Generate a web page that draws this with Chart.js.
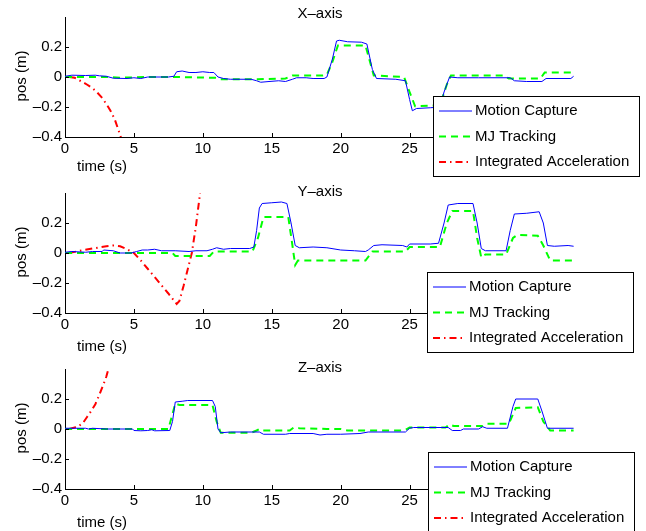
<!DOCTYPE html>
<html>
<head>
<meta charset="utf-8">
<script src="https://cdn.jsdelivr.net/npm/chart.js@4.4.1/dist/chart.umd.min.js"></script>
<style>
  html, body { margin: 0; padding: 0; background: #fff; }
  #wrap { position: relative; width: 646px; height: 531px; overflow: hidden; }
  canvas { position: absolute; left: 0; }
</style>
</head>
<body>
<div id="wrap">
  <canvas id="pX" width="646" height="180" style="top:0px"></canvas>
  <canvas id="pY" width="646" height="180" style="top:176px"></canvas>
  <canvas id="pZ" width="646" height="179" style="top:352px"></canvas>
</div>
<script>
// === DATA ===
const seriesNames = ['Motion Capture', 'MJ Tracking', 'Integrated Acceleration'];
const xTickVals = [0, 5, 10, 15, 20, 25, 30, 35];
const yTickVals = [-0.4, -0.2, 0, 0.2];
const yTickLabels = ['–0.4', '–0.2', '0', '0.2'];

// X-axis
const xMocapT = [0, 0.5, 1.5, 2.2, 2.5, 3.0, 3.5, 4.5, 5.0, 5.5, 6, 7.5, 7.9, 8.1, 8.5, 9, 9.5, 10, 10.5, 10.8, 11.1, 11.5, 12, 13.5, 13.9, 14.2, 14.8, 15.5, 16, 16.5, 16.8, 17.5, 18, 18.8, 19.0, 19.4, 19.7, 19.9, 20.5, 21.5, 21.9, 22.3, 22.6, 24, 24.7, 25.0, 25.2, 25.5, 26.5, 27.2, 27.5, 27.9, 28.5, 30, 32.3, 32.6, 33.5, 34.6, 34.9, 36.7, 36.9];
const xMocapV = [0.005, 0.012, 0.01, 0.012, 0.008, 0.005, -0.008, -0.01, -0.005, -0.01, 0, 0, 0.005, 0.035, 0.04, 0.03, 0.03, 0.035, 0.03, 0.03, 0, -0.01, -0.015, -0.015, -0.025, -0.035, -0.03, -0.025, -0.03, -0.015, -0.005, -0.005, -0.01, -0.01, 0, 0.12, 0.24, 0.245, 0.235, 0.232, 0.22, 0.05, -0.01, -0.015, -0.025, -0.15, -0.225, -0.21, -0.205, -0.2, -0.1, 0, -0.005, -0.005, -0.005, -0.025, -0.03, -0.03, -0.01, -0.01, 0.005];
const xMjT = [0, 3, 4, 6, 8, 10.9, 11.3, 14, 16, 16.5, 18.7, 19.0, 19.4, 19.8, 21.8, 22.4, 24.6, 25.0, 25.4, 26.5, 27.2, 27.7, 28.0, 31.8, 32.2, 34.5, 34.8, 36.9];
const xMjV = [0, 0, -0.005, 0, 0, -0.005, -0.015, -0.015, -0.01, 0.01, 0.01, 0.015, 0.1, 0.21, 0.21, 0.01, 0, -0.1, -0.195, -0.19, -0.19, -0.05, 0.01, 0.01, -0.01, -0.01, 0.03, 0.03];
const xAccT = [0.3, 0.7, 1.1, 1.5, 2.0, 2.3, 2.7, 3.0, 3.3, 3.6, 3.9, 4.05, 4.2];
const xAccV = [0, -0.005, -0.025, -0.045, -0.075, -0.1, -0.14, -0.18, -0.225, -0.28, -0.36, -0.4, -0.44];

// Y-axis
const yMocapT = [0, 0.5, 1.5, 2.0, 2.7, 2.8, 3.5, 4.0, 4.8, 5.2, 5.6, 6, 6.5, 7, 8, 9, 9.5, 10.3, 10.7, 11, 11.5, 12, 13.4, 13.7, 13.9, 14.1, 14.3, 15, 15.7, 16.1, 16.4, 16.7, 17, 18, 19, 20, 21, 21.8, 22.0, 22.4, 23, 24.5, 24.8, 25.0, 26.5, 27.1, 27.5, 27.8, 28.5, 29.6, 29.9, 30.2, 30.5, 32.0, 32.3, 32.6, 33.5, 34.4, 34.7, 35.0, 35.5, 36.5, 36.9];
const yMocapV = [0.005, 0.01, 0.005, 0.01, 0.01, 0.02, 0.015, 0, 0, 0.01, 0.02, 0.02, 0.025, 0.015, 0.015, 0.01, 0.015, 0.015, 0.025, 0.035, 0.025, 0.03, 0.03, 0.04, 0.15, 0.3, 0.33, 0.335, 0.34, 0.33, 0.2, 0.05, 0.035, 0.04, 0.035, 0.02, 0.015, 0.01, 0.02, 0.05, 0.055, 0.05, 0.04, 0.06, 0.06, 0.065, 0.2, 0.32, 0.33, 0.33, 0.2, 0.03, 0.015, 0.015, 0.15, 0.26, 0.265, 0.275, 0.2, 0.05, 0.045, 0.05, 0.045];
const yMjT = [0, 4, 6, 7.8, 8.0, 10.5, 10.8, 13.6, 14.0, 14.4, 16.2, 16.5, 16.7, 16.9, 21.8, 22.3, 24.7, 25.0, 27.2, 27.7, 28.1, 29.6, 29.9, 30.2, 30.5, 32.0, 32.5, 32.8, 34.3, 34.7, 35.2, 36.9];
const yMjV = [0, 0, 0, 0, -0.02, -0.02, 0.01, 0.01, 0.1, 0.24, 0.24, 0.05, -0.08, -0.05, -0.05, 0.01, 0.01, 0.04, 0.04, 0.2, 0.28, 0.28, 0.1, -0.03, -0.01, -0.01, 0.1, 0.12, 0.115, 0.05, -0.05, -0.05];
const yAccT = [0.3, 1.0, 2.0, 3.0, 3.5, 4.0, 4.5, 5.0, 5.5, 6.0, 6.5, 7.0, 7.5, 8.1, 8.3, 8.6, 8.9, 9.2, 9.5, 9.8, 9.9];
const yAccV = [0, 0.013, 0.03, 0.045, 0.05, 0.045, 0.025, 0, -0.05, -0.105, -0.16, -0.215, -0.27, -0.34, -0.32, -0.22, -0.11, 0, 0.18, 0.4, 0.46];

// Z-axis
const zMocapT = [0, 1.5, 1.7, 2, 3, 4.9, 5.0, 5.5, 6.0, 6.3, 6.5, 7.6, 7.8, 8.0, 8.5, 8.9, 10.7, 10.9, 11.1, 11.3, 12, 14.1, 14.4, 16, 16.3, 18, 18.5, 19, 20, 21.4, 22, 24.7, 25.0, 25.3, 27.8, 28.1, 28.7, 28.9, 30.0, 30.3, 30.6, 32.1, 32.5, 32.7, 34.3, 34.6, 35.0, 36.9];
const zMocapV = [0.005, 0.005, 0, 0.005, 0, 0, -0.01, -0.012, -0.01, -0.005, -0.012, -0.01, 0.05, 0.18, 0.185, 0.19, 0.19, 0.15, 0, -0.025, -0.02, -0.02, -0.035, -0.035, -0.03, -0.03, -0.04, -0.035, -0.035, -0.03, -0.02, -0.02, 0.005, 0.01, 0.01, -0.01, -0.01, 0, 0, 0.015, 0.005, 0.005, 0.15, 0.2, 0.2, 0.12, 0.005, 0.005];
const zMjT = [0, 7.5, 7.8, 8.0, 8.3, 10.7, 11.0, 11.3, 13.5, 13.9, 14.1, 14.3, 16.3, 16.6, 17.0, 19, 20, 20.5, 24.6, 25.0, 27.6, 27.9, 28.2, 30.3, 30.6, 32.2, 32.7, 34.3, 34.7, 35.2, 36.9];
const zMjV = [0, 0, 0.1, 0.17, 0.16, 0.16, 0.05, -0.025, -0.025, -0.01, 0, -0.01, -0.01, 0.01, 0.005, 0, 0, -0.01, -0.01, 0.01, 0.01, 0.03, 0.02, 0.02, 0.035, 0.035, 0.14, 0.145, 0.05, -0.01, -0.01];
const zAccT = [0.3, 0.7, 1.0, 1.3, 1.6, 1.9, 2.2, 2.5, 2.8, 3.0, 3.15, 3.3];
const zAccV = [0, 0.01, 0.02, 0.04, 0.08, 0.12, 0.165, 0.23, 0.3, 0.35, 0.4, 0.45];

// === ESTILO ===
const FONT = '15px "Liberation Sans", Arial, sans-serif';
Chart.defaults.font.family = '"Liberation Sans", Arial, sans-serif';
Chart.defaults.font.size = 15;
Chart.defaults.color = '#000';

const lineColors = ['#0000ff', '#00ff00', '#ff0000'];
const lineWidths = [1, 2, 2];
const lineDashes = [[], [7, 5], [7, 4, 1.5, 4]];

function pares(ts, vs) {
  return ts.map((t, i) => ({ x: t, y: vs[i] }));
}

// desenha ticks internos, titulos e a legenda por cima
const decor = {
  id: 'decor',
  afterDraw(chart, args, o) {
    const { ctx, chartArea: a, scales } = chart;
    ctx.save();
    ctx.strokeStyle = '#000';
    ctx.lineWidth = 1;
    ctx.beginPath();
    scales.x.ticks.forEach(t => {
      const px = Math.round(scales.x.getPixelForValue(t.value)) + 0.5;
      ctx.moveTo(px, a.bottom);
      ctx.lineTo(px, a.bottom - 4);
    });
    scales.y.ticks.forEach(t => {
      const py = Math.round(scales.y.getPixelForValue(t.value)) + 0.5;
      ctx.moveTo(a.left, py);
      ctx.lineTo(a.left + 4, py);
    });
    ctx.stroke();

    ctx.fillStyle = '#000';
    ctx.font = FONT;
    ctx.textAlign = 'center';
    ctx.textBaseline = 'alphabetic';
    ctx.fillText(o.title, (a.left + a.right) / 2, o.titleY);
    ctx.fillText('time (s)', 102, o.xlabelY);

    ctx.save();
    ctx.translate(22, 76);
    ctx.rotate(-Math.PI / 2);
    ctx.textBaseline = 'middle';
    ctx.fillText('pos (m)', 0, 0);
    ctx.restore();

    // legenda
    const L = o.legL, T = o.legT;
    ctx.fillStyle = '#fff';
    ctx.fillRect(L, T, 206, 80);
    ctx.strokeStyle = '#000';
    ctx.lineWidth = 1;
    ctx.strokeRect(L + 0.5, T + 0.5, 206, 80);
    seriesNames.forEach((nome, i) => {
      const y = T + 15 + i * 25.5;
      ctx.save();
      ctx.strokeStyle = lineColors[i];
      ctx.lineWidth = lineWidths[i];
      ctx.setLineDash(lineDashes[i]);
      ctx.beginPath();
      ctx.moveTo(L + 6, y);
      ctx.lineTo(L + 39, y);
      ctx.stroke();
      ctx.restore();
      ctx.fillStyle = '#000';
      ctx.textAlign = 'left';
      ctx.textBaseline = 'middle';
      ctx.fillText(nome, L + 42, y);
    });
    ctx.restore();
  }
};

const paineis = [
  { id: 'pX', title: 'X–axis', titleY: 18, xlabelY: 171, legL: 433, legT: 96,
    series: [pares(xMocapT, xMocapV), pares(xMjT, xMjV), pares(xAccT, xAccV)] },
  { id: 'pY', title: 'Y–axis', titleY: 20, xlabelY: 175, legL: 427, legT: 96,
    series: [pares(yMocapT, yMocapV), pares(yMjT, yMjV), pares(yAccT, yAccV)] },
  { id: 'pZ', title: 'Z–axis', titleY: 20, xlabelY: 175, legL: 428, legT: 100,
    series: [pares(zMocapT, zMocapV), pares(zMjT, zMjV), pares(zAccT, zAccV)] }
];

paineis.forEach(p => {
  const canvas = document.getElementById(p.id);
  const alturaX = canvas.height - 137;
  new Chart(canvas, {
    type: 'line',
    data: {
      datasets: p.series.map((dados, i) => ({
        label: seriesNames[i],
        data: dados,
        borderColor: lineColors[i],
        borderWidth: lineWidths[i],
        borderDash: lineDashes[i],
        pointRadius: 0,
        tension: 0,
        fill: false,
        clip: 0
      }))
    },
    options: {
      responsive: false,
      animation: false,
      events: [],
      layout: { padding: { left: 0, top: 17, right: 71, bottom: 0 } },
      plugins: {
        legend: { display: false },
        tooltip: { enabled: false },
        decor: p
      },
      scales: {
        x: {
          type: 'linear',
          min: 0,
          max: 37,
          afterBuildTicks: s => { s.ticks = xTickVals.map(v => ({ value: v })); },
          afterFit: s => { s.height = alturaX; },
          grid: { display: false, drawTicks: false },
          border: { display: true, color: '#000', width: 1 },
          ticks: { padding: 3, maxRotation: 0, autoSkip: false, callback: v => String(v) }
        },
        y: {
          type: 'linear',
          min: -0.4,
          max: 0.4,
          afterBuildTicks: s => { s.ticks = yTickVals.map(v => ({ value: v })); },
          afterFit: s => { s.width = 65; },
          grid: { display: false, drawTicks: false },
          border: { display: true, color: '#000', width: 1 },
          ticks: { padding: 3, autoSkip: false, callback: (v, i) => yTickLabels[i] }
        }
      }
    },
    plugins: [decor]
  });
});
</script>
</body>
</html>
